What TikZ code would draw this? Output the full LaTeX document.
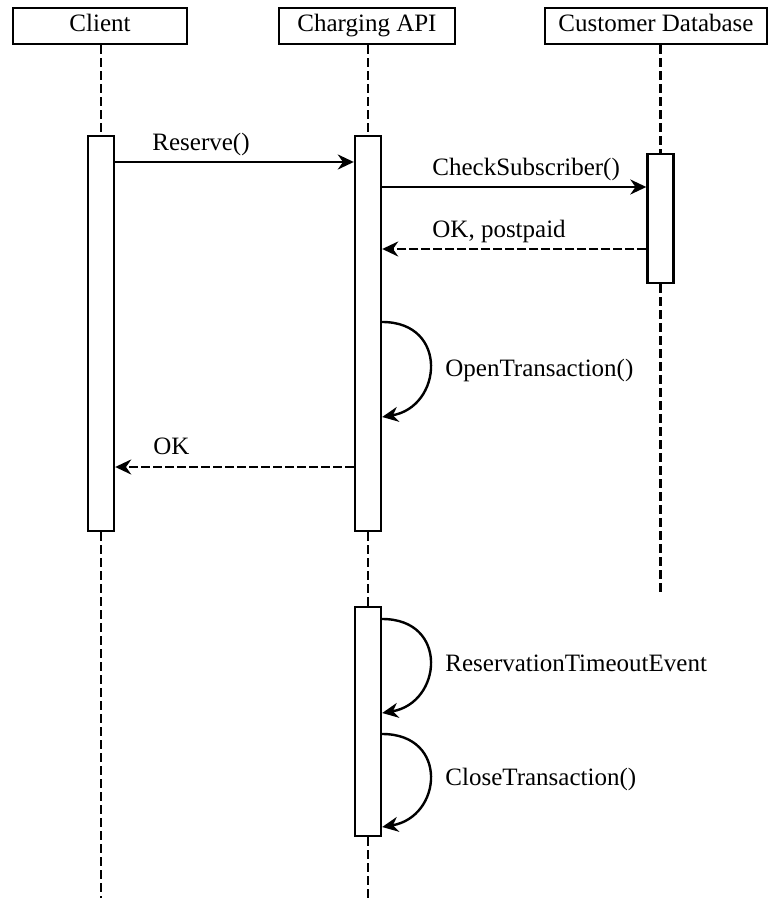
\documentclass[tikz,border=0pt]{standalone}
\usepackage{fontspec}
\setmainfont{Liberation Serif}
\usetikzlibrary{arrows.meta,positioning}

\tikzset{
  actor/.style={draw, line width=1.2pt, minimum height=18pt, inner sep=0pt, text height=8.5pt, text depth=2.5pt},
  activation/.style={draw, fill=white, line width=1.2pt, minimum width=13pt, inner sep=0pt},
  lifeline/.style={line width=1.2pt, dash pattern=on 4.5pt off 2pt},
  call/.style={line width=1.2pt, -{Stealth[length=8pt, width=7.5pt]}},
  reply/.style={call, dash pattern=on 4.5pt off 1.5pt},
  msg/.style={anchor=base west, inner sep=0pt}
}

\begin{document}
\begin{tikzpicture}[x=0.5pt, y=-0.5pt, font=\fontsize{12.5}{15}\selectfont]
  \useasboundingbox (0,0) rectangle (769,898);

  % participants
  \node[actor, minimum width=87pt] (client) at (100,26) {Client};
  \node[actor, minimum width=88pt] (api) at (367,26) {Charging API};
  \node[actor, minimum width=111pt] (db) at (656,26) {Customer Database};

  % activations
  \node[activation, minimum height=197.5pt] (clientact) at (101,333.5) {};
  \node[activation, minimum height=197.5pt] (apiact) at (368,333.5) {};
  \node[activation, minimum height=64.5pt] (dbact) at (660.5,218.5) {};
  \node[activation, minimum height=114.5pt] (apiact2) at (368,721.5) {};

  \coordinate (clientend) at (101,898);
  \coordinate (apiend) at (368,898);
  \coordinate (dbend) at (660.5,592);

  % lifelines
  \draw[lifeline] (clientact.north |- client.south) -- (clientact.north);
  \draw[lifeline] (clientact.south) -- (clientend);
  \draw[lifeline] (apiact.north |- api.south) -- (apiact.north);
  \draw[lifeline] (apiact.south) -- (apiact2.north);
  \draw[lifeline] (apiact2.south) -- (apiend);
  \draw[lifeline] (dbact.north |- db.south) -- (dbact.north);
  \draw[lifeline] (dbact.south) -- (dbend);

  % message rows
  \coordinate (reserve) at (0,162);
  \coordinate (check) at (0,187);
  \coordinate (postpaid) at (0,249);
  \coordinate (openA) at (0,322);
  \coordinate (openB) at (0,417);
  \coordinate (ok) at (0,467);
  \coordinate (timeoutA) at (0,619);
  \coordinate (timeoutB) at (0,713);
  \coordinate (closeA) at (0,734);
  \coordinate (closeB) at (0,827);

  \draw[call] (clientact.east |- reserve) -- (apiact.west |- reserve);
  \draw[call] (apiact.east |- check) -- (dbact.west |- check);
  \draw[reply] (dbact.west |- postpaid) -- (apiact.east |- postpaid);
  \draw[call] (apiact.east |- openA) .. controls +(67,0) and +(60,-10) .. (apiact.east |- openB);
  \draw[reply] (apiact.west |- ok) -- (clientact.east |- ok);
  \draw[call] (apiact2.east |- timeoutA) .. controls +(67,0) and +(60,-10) .. (apiact2.east |- timeoutB);
  \draw[call] (apiact2.east |- closeA) .. controls +(67,0) and +(60,-10) .. (apiact2.east |- closeB);

  \node[msg] (lreserve) at (152,151) {Reserve()};
  \node[msg] (lcheck) at (432,176) {CheckSubscriber()};
  \node[msg] (lpostpaid) at (432,238) {OK, postpaid};
  \node[msg] (lopen) at (445,376) {OpenTransaction()};
  \node[msg] (lok) at (153,454) {OK};
  \node[msg] (ltimeout) at (445,671) {ReservationTimeoutEvent};
  \node[msg] (lclose) at (445,785) {CloseTransaction()};
\end{tikzpicture}
\end{document}
